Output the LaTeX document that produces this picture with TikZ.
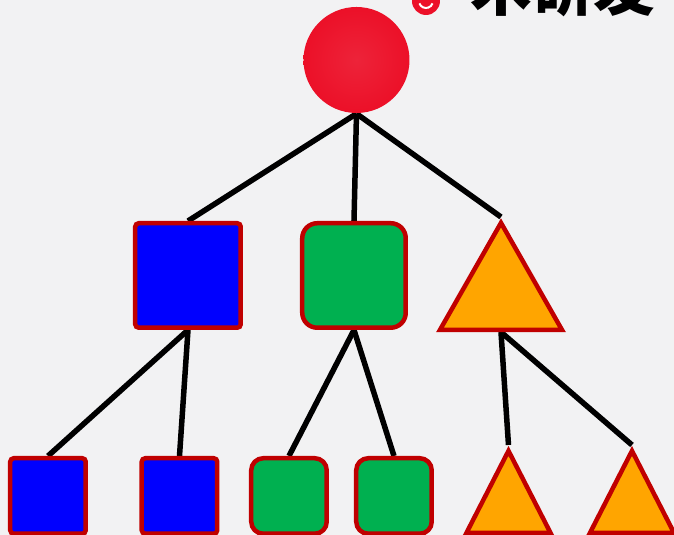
\documentclass[tikz,border=0pt]{standalone}
\usepackage{fontspec}
\newfontfamily\cjkfont{Noto Sans CJK SC}
\usetikzlibrary{shapes.geometric,backgrounds}
\definecolor{paperGray}{RGB}{242,242,243}
\definecolor{ballRed}{RGB}{236,16,40}
\definecolor{borderRed}{RGB}{192,0,0}
\definecolor{nodeBlue}{RGB}{0,0,255}
\definecolor{nodeGreen}{RGB}{0,176,80}
\definecolor{nodeOrange}{RGB}{255,165,0}

\begin{document}
\begin{tikzpicture}[
  x=1cm, y=-1cm,
  every node/.style={inner sep=0pt},
  edge/.style={draw=black, line width=0.055cm},
  bluebox/.style={rectangle, draw=borderRed, line width=0.045cm, fill=nodeBlue,
                  rounded corners=1pt},
  greenbox/.style={rectangle, draw=borderRed, line width=0.045cm, fill=nodeGreen,
                   rounded corners=0.15cm},
  orangetri/.style={isosceles triangle, isosceles triangle stretches,
                    shape border rotate=90, draw=borderRed, line width=0.045cm,
                    fill=nodeOrange, anchor=apex},
]
\useasboundingbox (0,0) rectangle (6.74,5.35);
\clip (0,0) rectangle (6.74,5.35);

% Root
\node[circle, inner color=ballRed!92!white, outer color=ballRed,
      minimum size=1.06cm] (root) at (3.565,0.60) {};

% Children
\node[bluebox, minimum width=1.055cm, minimum height=1.045cm] (sq) at (1.88,2.755) {};
\node[greenbox, minimum width=1.035cm, minimum height=1.045cm] (rsq) at (3.54,2.755) {};
\node[orangetri, minimum width=1.22cm, minimum height=1.07cm] (tri) at (5.01,2.17) {};

% Leaves
\node[bluebox, minimum size=0.755cm] (sqa) at (0.48,4.96) {};
\node[bluebox, minimum size=0.755cm] (sqb) at (1.795,4.96) {};
\node[greenbox, minimum size=0.755cm, rounded corners=0.12cm] (rsqa) at (2.89,4.96) {};
\node[greenbox, minimum size=0.755cm, rounded corners=0.12cm] (rsqb) at (3.94,4.96) {};
\node[orangetri, minimum width=0.84cm, minimum height=0.82cm] (tria) at (5.085,4.45) {};
\node[orangetri, minimum width=0.84cm, minimum height=0.82cm] (trib) at (6.32,4.45) {};

% Heading
\node[circle, fill=ballRed, minimum size=0.28cm] (bullet) at (4.26,0.01) {};
\draw[white, line width=0.02cm] ([shift={(-0.066,0.024)}]bullet.center)
  arc[start angle=160, end angle=20, radius=0.07];
\node[anchor=base west, font=\cjkfont\bfseries\fontsize{17.5pt}{20pt}\selectfont]
  (title) at (4.70,0.11) {术研发};

% Edges
\begin{scope}[on background layer]
  \fill[paperGray] (0,0) rectangle (6.74,5.35);
  \draw[edge] (root.south) -- (sq.north);
  \draw[edge] (root.south) -- (rsq.north);
  \draw[edge] (root.south) -- (tri.apex);
  \draw[edge] (sq.south) -- (sqa.north);
  \draw[edge] (sq.south) -- (sqb.north);
  \draw[edge] (rsq.south) -- (rsqa.north);
  \draw[edge] (rsq.south) -- (rsqb.north);
  \draw[edge] (tri.lower side) -- (tria.apex);
  \draw[edge] (tri.lower side) -- (trib.apex);
\end{scope}

\end{tikzpicture}
\end{document}
